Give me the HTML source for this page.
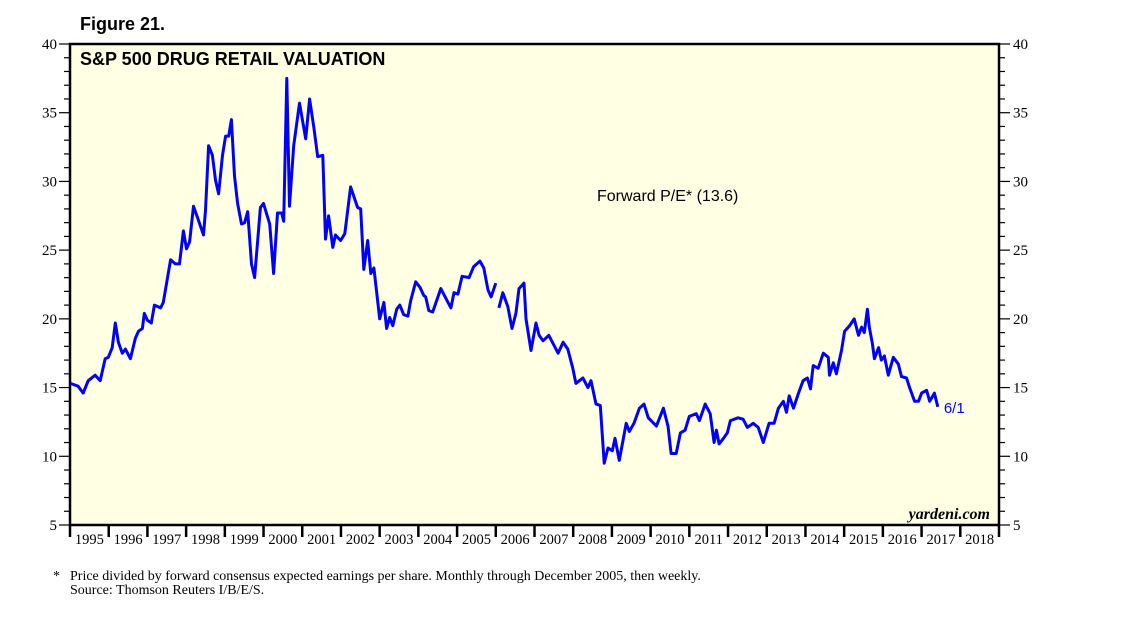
<!DOCTYPE html>
<html><head><meta charset="utf-8"><style>
body{margin:0;background:#fff;width:1138px;height:621px;overflow:hidden}
svg{display:block}
</style></head><body>
<svg id="chart" width="1138" height="621" xmlns="http://www.w3.org/2000/svg">
<text x="80" y="30" font-family="Liberation Sans, sans-serif" font-weight="bold" font-size="18">Figure 21.</text>
<rect x="70" y="44" width="929" height="481" fill="#FFFFE4" stroke="#000" stroke-width="2.5"/>
<text x="80" y="65" font-family="Liberation Sans, sans-serif" font-weight="bold" font-size="18">S&amp;P 500 DRUG RETAIL VALUATION</text>
<text x="597" y="201" font-family="Liberation Sans, sans-serif" font-size="16">Forward P/E* (13.6)</text>
<text x="990" y="519" text-anchor="end" font-family="Liberation Serif, serif" font-style="italic" font-weight="bold" font-size="16">yardeni.com</text>
<g id="axes"></g>
<g id="series"></g>
<text x="53" y="580" font-family="Liberation Serif, serif" font-size="14">*</text>
<text x="70" y="580" font-family="Liberation Serif, serif" font-size="14">Price divided by forward consensus expected earnings per share. Monthly through December 2005, then weekly.</text>
<text x="70" y="594" font-family="Liberation Serif, serif" font-size="14">Source: Thomson Reuters I/B/E/S.</text>
</svg>
<script>
const yearLabels=[1995,1996,1997,1998,1999,2000,2001,2002,2003,2004,2005,2006,2007,2008,2009,2010,2011,2012,2013,2014,2015,2016,2017,2018];
const yTicks=[5,10,15,20,25,30,35,40];
const monthlyDates=[1995.01,1995.21,1995.34,1995.47,1995.65,1995.78,1995.91,1995.99,1996.09,1996.17,1996.25,1996.35,1996.43,1996.56,1996.69,1996.77,1996.87,1996.92,1997.00,1997.10,1997.18,1997.34,1997.41,1997.60,1997.72,1997.83,1997.93,1998.01,1998.09,1998.19,1998.29,1998.45,1998.50,1998.58,1998.68,1998.76,1998.84,1998.94,1999.02,1999.10,1999.17,1999.25,1999.33,1999.43,1999.51,1999.59,1999.69,1999.77,1999.85,1999.92,2000.00,2000.16,2000.26,2000.36,2000.47,2000.52,2000.60,2000.67,2000.78,2000.93,2001.09,2001.19,2001.30,2001.40,2001.53,2001.60,2001.68,2001.79,2001.86,2001.99,2002.10,2002.25,2002.43,2002.51,2002.59,2002.69,2002.77,2002.85,2003.00,2003.11,2003.18,2003.26,2003.34,2003.44,2003.52,2003.62,2003.73,2003.80,2003.93,2004.04,2004.14,2004.19,2004.27,2004.37,2004.58,2004.84,2004.92,2005.02,2005.13,2005.31,2005.43,2005.59,2005.69,2005.80,2005.88,2006.00];
const monthlyPE=[15.3,15.1,14.6,15.5,15.9,15.5,17.1,17.2,17.9,19.7,18.3,17.5,17.8,17.1,18.6,19.1,19.3,20.4,19.9,19.7,21.0,20.8,21.2,24.3,24.0,24.0,26.4,25.1,25.6,28.2,27.4,26.1,27.9,32.6,31.9,30.1,29.1,31.9,33.3,33.3,34.5,30.4,28.4,26.9,27.0,27.8,24.0,23.0,25.7,28.1,28.4,26.9,23.3,27.7,27.7,27.1,37.5,28.2,32.6,35.7,33.1,36.0,33.9,31.8,31.9,25.8,27.5,25.2,26.1,25.7,26.2,29.6,28.1,28.0,23.6,25.7,23.3,23.7,20.0,21.2,19.3,20.1,19.5,20.7,21.0,20.3,20.2,21.3,22.7,22.3,21.7,21.6,20.6,20.5,22.2,20.8,21.9,21.8,23.1,23.0,23.8,24.2,23.7,22.1,21.6,22.6];
const weeklyDates=[2006.08,2006.18,2006.31,2006.42,2006.52,2006.60,2006.73,2006.78,2006.91,2007.04,2007.12,2007.22,2007.37,2007.61,2007.74,2007.86,2007.99,2008.07,2008.25,2008.38,2008.46,2008.59,2008.70,2008.80,2008.90,2009.01,2009.08,2009.19,2009.37,2009.45,2009.57,2009.71,2009.83,2009.94,2010.15,2010.33,2010.45,2010.53,2010.66,2010.77,2010.89,2011.00,2011.18,2011.26,2011.41,2011.54,2011.64,2011.70,2011.77,2011.88,2011.98,2012.06,2012.26,2012.39,2012.50,2012.65,2012.78,2012.91,2013.06,2013.19,2013.30,2013.43,2013.51,2013.58,2013.69,2013.82,2013.94,2014.05,2014.13,2014.20,2014.33,2014.46,2014.59,2014.62,2014.72,2014.80,2014.93,2015.01,2015.14,2015.26,2015.37,2015.45,2015.52,2015.60,2015.65,2015.73,2015.78,2015.89,2015.96,2016.04,2016.14,2016.27,2016.40,2016.48,2016.61,2016.69,2016.82,2016.92,2017.00,2017.13,2017.21,2017.33,2017.42];
const weeklyPE=[20.8,21.9,20.9,19.3,20.4,22.2,22.6,20.0,17.7,19.7,18.8,18.4,18.8,17.5,18.3,17.8,16.4,15.3,15.7,15.0,15.5,13.8,13.7,9.5,10.6,10.4,11.3,9.7,12.4,11.8,12.4,13.5,13.8,12.8,12.2,13.5,12.2,10.2,10.2,11.7,11.9,12.9,13.1,12.6,13.8,13.1,11.0,11.9,10.9,11.3,11.7,12.6,12.8,12.7,12.1,12.4,12.1,11.0,12.4,12.4,13.5,14.0,13.2,14.4,13.5,14.6,15.5,15.7,14.9,16.6,16.4,17.5,17.2,15.9,16.8,16.0,17.7,19.1,19.5,20.0,18.8,19.4,19.0,20.7,19.4,18.2,17.1,17.9,17.0,17.3,15.9,17.2,16.7,15.8,15.7,15.0,14.0,14.0,14.6,14.8,14.0,14.6,13.6];
const lastLabel="6/1";

const X0=70,X1=999,Y0=525,Y1=44;
const xS=t=>X0+(t-1995)*(X1-X0)/24;
const yS=v=>Y0-(v-5)*(Y0-Y1)/35;
const NS="http://www.w3.org/2000/svg";
const axes=document.getElementById('axes'),series=document.getElementById('series');
function mk(tag,attrs,parent){const e=document.createElementNS(NS,tag);for(const k in attrs)e.setAttribute(k,attrs[k]);parent.appendChild(e);return e;}
for(let v=5;v<=40;v++){
  const len=v%5===0?11:6;
  const l=mk('line',{x1:X0-len,x2:X0,y1:yS(v),y2:yS(v),stroke:'#000','stroke-width':1.2},axes);
  
  
  const r=mk('line',{x1:X1,x2:X1+len,y1:yS(v),y2:yS(v),stroke:'#000','stroke-width':1.2},axes);
  
  
}
yTicks.forEach(v=>{
  const a=mk('text',{x:X0-13,y:yS(v)+5,'text-anchor':'end','font-family':'Liberation Serif, serif','font-size':15},axes);
  a.textContent=v;
  
  
  const b=mk('text',{x:X1+14,y:yS(v)+5,'font-family':'Liberation Serif, serif','font-size':15},axes);
  b.textContent=v;
  
  
});
for(let i=0;i<=yearLabels.length;i++){
  const t=mk('line',{x1:xS(1995+i),x2:xS(1995+i),y1:Y0,y2:Y0+12,stroke:'#000','stroke-width':2.5},axes);
  
  
}
yearLabels.forEach(y=>{
  const t=mk('text',{x:xS(y+0.5),y:Y0+19,'text-anchor':'middle','font-family':'Liberation Serif, serif','font-size':14.5},axes);
  t.textContent=y;
  
  
});
function line(d,v,name){
  const pts=d.map((t,i)=>xS(t).toFixed(1)+','+yS(v[i]).toFixed(1)).join(' ');
  const p=mk('polyline',{points:pts,fill:'none',stroke:'#0000FF','stroke-width':3,'stroke-linejoin':'round'},series);
  
  
}
line(monthlyDates,monthlyPE,'forward-pe-monthly-line');
line(weeklyDates,weeklyPE,'forward-pe-weekly-line');
const lt=mk('text',{x:xS(weeklyDates[weeklyDates.length-1])+6,y:yS(weeklyPE[weeklyPE.length-1])+6,fill:'#0000FF','font-family':'Liberation Sans, sans-serif','font-size':15},series);
lt.textContent=lastLabel;


</script>
</body></html>
